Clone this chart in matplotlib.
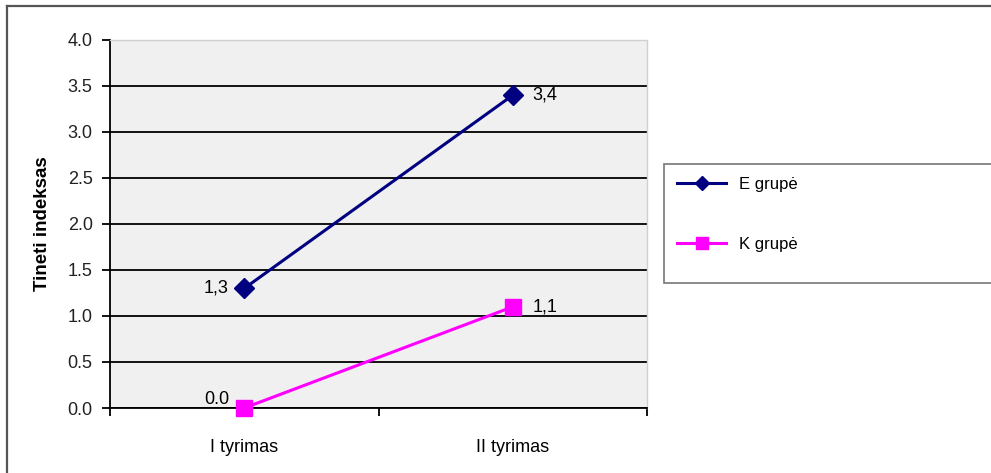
import matplotlib.pyplot as plt
from matplotlib.lines import Line2D
from matplotlib.patches import Rectangle

plt.rcParams['font.family'] = ['Liberation Sans', 'DejaVu Sans']

# data
categories = ['I tyrimas', 'II tyrimas']
e_group = [1.3, 3.4]
k_group = [0.0, 1.1]
e_labels = ['1,3', '3,4']
k_labels = ['0.0', '1,1']
series_names = ['E grupė', 'K grupė']

W, H = 991, 473
fig = plt.figure(figsize=(W / 100, H / 100), dpi=100)

# axes area in pixels: left 110, right 647, top 40, bottom 408
ax = fig.add_axes([110 / W, 1 - 408 / H, (647 - 110) / W, (408 - 40) / H])
ax.set_facecolor('#f0f0f0')

x = list(range(len(categories)))
ax.plot(x, e_group, color='#000080', lw=2.2, marker='D', ms=10, zorder=3)
ax.plot(x, k_group, color='#ff00ff', lw=2.2, marker='s', ms=11.5, zorder=3, clip_on=False)

# data labels
ax.annotate(e_labels[0], (x[0], e_group[0]), xytext=(-11, 0), textcoords='offset points',
            ha='right', va='center', fontsize=13)
ax.annotate(e_labels[1], (x[1], e_group[1]), xytext=(14, 0), textcoords='offset points',
            ha='left', va='center', fontsize=13)
ax.annotate(k_labels[0], (x[0], k_group[0]), xytext=(-11, 6), textcoords='offset points',
            ha='right', va='center', fontsize=13)
ax.annotate(k_labels[1], (x[1], k_group[1]), xytext=(14, 0), textcoords='offset points',
            ha='left', va='center', fontsize=13)

ax.set_xlim(-0.5, len(categories) - 0.5)
ax.set_ylim(0, 4.0)
ax.set_yticks([i * 0.5 for i in range(9)])
ax.set_yticklabels([f'{i * 0.5:.1f}' for i in range(9)], fontsize=13, color='#222222')
ax.yaxis.grid(True, color='black', lw=1.3)
ax.set_axisbelow(True)

# category labels without ticks, ticks between categories
ax.set_xticks(x)
ax.set_xticklabels(categories, fontsize=13)
ax.tick_params(axis='x', length=0, pad=22)
ax.set_xticks([-0.5, 0.5, 1.5], minor=True)
ax.tick_params(axis='x', which='minor', length=5.5, direction='out', width=1.3)
ax.tick_params(axis='y', length=5.5, direction='out', width=1.3, pad=7)

for side in ['top', 'right']:
    ax.spines[side].set_color('#d0d0d0')
    ax.spines[side].set_linewidth(1)
for side in ['left', 'bottom']:
    ax.spines[side].set_color('black')
    ax.spines[side].set_linewidth(1.3)

ax.set_ylabel('Tineti indeksas', fontsize=13.5, fontweight='bold', labelpad=12)

# legend box: frame drawn separately, entries from a frameless legend
fig.add_artist(Rectangle((664 / W, 1 - 283 / H), (W + 5 - 664) / W, (283 - 164) / H,
                         transform=fig.transFigure, facecolor='white',
                         edgecolor='#777777', lw=1.2, zorder=4))
handles = [
    Line2D([], [], color='#000080', lw=2.2, marker='D', ms=7.5),
    Line2D([], [], color='#ff00ff', lw=2.2, marker='s', ms=9),
]
leg = fig.legend(handles, series_names, loc='upper left',
                 bbox_to_anchor=(664 / W, 1 - 164 / H), fontsize=12,
                 frameon=False, handlelength=2.9, labelspacing=2.7,
                 borderpad=0.3, handletextpad=0.8)
leg.set_zorder(5)

# outer chart border
fig.add_artist(Line2D([7 / W, 1], [1 - 6 / H, 1 - 6 / H], color='#555555', lw=1.6))
fig.add_artist(Line2D([7 / W, 7 / W], [0, 1 - 6 / H], color='#555555', lw=1.6))

fig.savefig('out.png', dpi=100)
